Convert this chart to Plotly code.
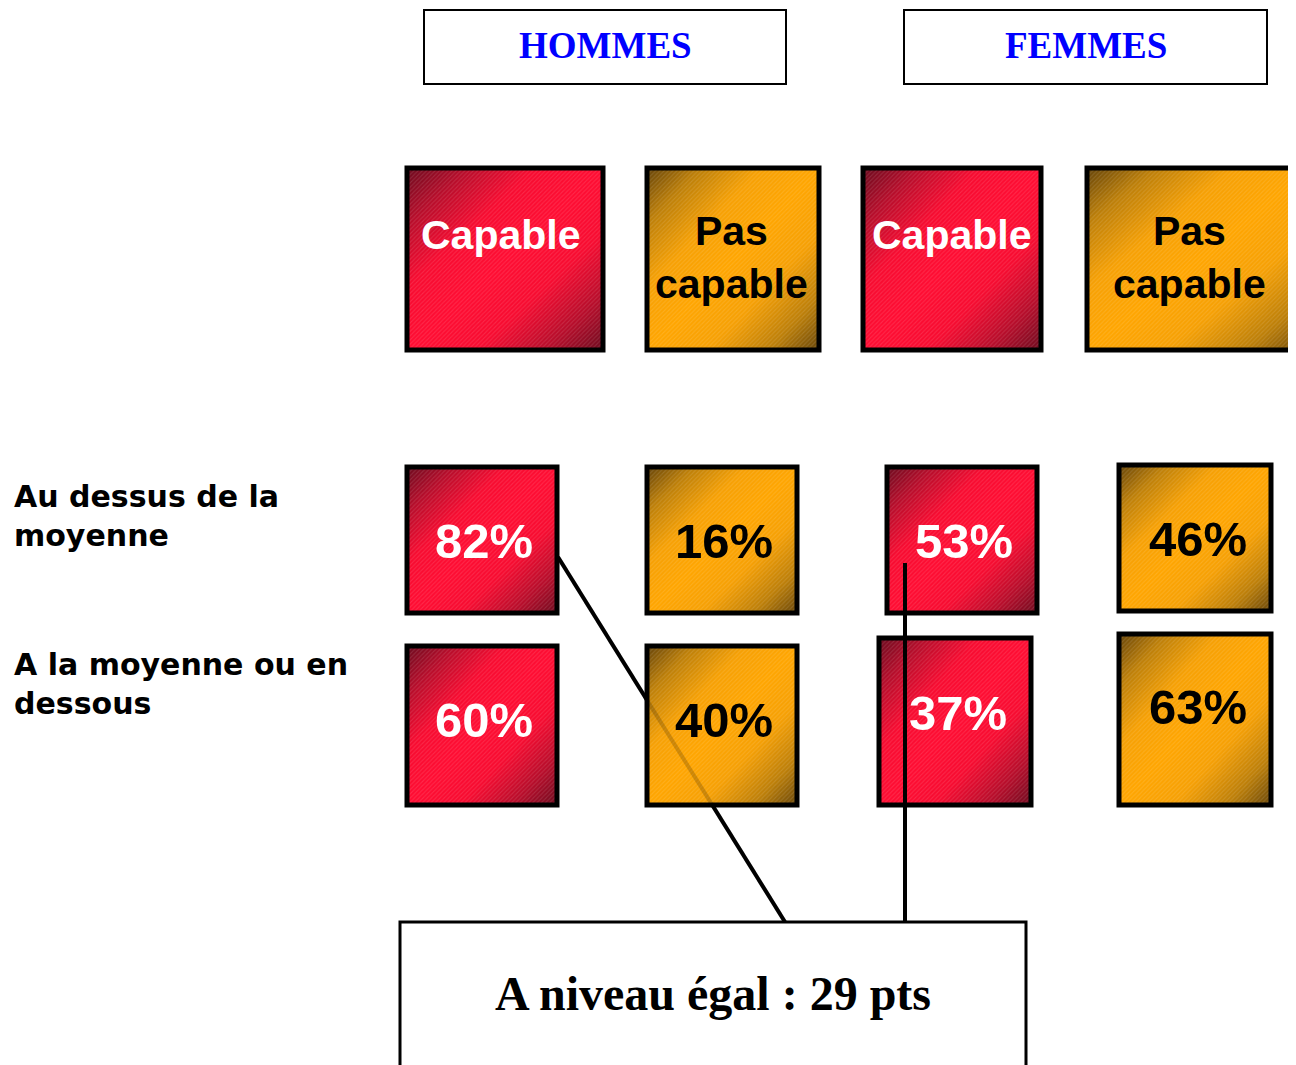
import numpy as np
import plotly.graph_objects as go

# --- Données -------------------------------------------------------------
genres = ["HOMMES", "FEMMES"]
categories = ["Capable", "Pas<br>capable", "Capable", "Pas<br>capable"]
niveaux = ["Au dessus de la<br>moyenne", "A la moyenne ou en<br>dessous"]
pct_dessus = [82, 16, 53, 46]
pct_dessous = [60, 40, 37, 63]
conclusion = "A niveau égal : 29 pts"

# --- Géométrie (pixels de la diapositive, y vers le bas) ------------------
W, H = 1296, 1065
DEC = 8  # marge par défaut du <body> de la page : on la compense dans les axes
entetes = [(424, 786, 10, 84), (904, 1267, 10, 84)]
cases_cat = [(407, 603, 168, 350), (647, 819, 168, 350),
             (863, 1041, 168, 350), (1087, 1310, 168, 350)]
cat_texte_y = [235, 257, 235, 257]
cases_dessus = [(407, 557, 467, 613), (647, 797, 467, 613),
                (887, 1037, 467, 613), (1119, 1271, 465, 611)]
cases_dessous = [(407, 557, 646, 805), (647, 797, 646, 805),
                 (879, 1031, 638, 805), (1119, 1271, 634, 805)]
texte_dessus = [(484, 541), (724, 541), (964, 541), (1198, 539)]
texte_dessous = [(484, 720), (724, 720), (958, 713), (1198, 707)]
niveaux_pos = [(12, 516), (12, 684)]
boite_fin = (400, 1026, 922, 1090)

ROUGE = [[0, "#ff0c32"], [0.35, "#f70b30"], [0.7, "#b60c2a"], [1, "#6c0a1e"]]
ORANGE = [[0, "#ffa500"], [0.35, "#f6a004"], [0.7, "#bd7f08"], [1, "#664408"]]
SANS = "Liberation Sans, Arial, sans-serif"
SERIF = "Liberation Serif, Times New Roman, serif"

fig = go.Figure()
shapes = []
annotations = []

# Trait diagonal (passe sous la case 40 %)
shapes.append(dict(type="line", x0=558, y0=557, x1=785, y1=922,
                   line=dict(color="black", width=4), layer="below"))


def case(x0, x1, y0, y1, palette):
    n = 60
    xs = np.linspace(x0, x1, n)
    ys = np.linspace(y0, y1, n)
    u, v = np.meshgrid(np.linspace(0, 1, n), np.linspace(0, 1, n))
    z = np.abs(u + v - 1)
    fig.add_trace(go.Heatmap(x=xs, y=ys, z=z, colorscale=palette, zmin=0, zmax=1,
                             zsmooth="best", showscale=False, hoverinfo="skip"))
    fig.add_trace(go.Scatter(x=[x0, x1, x1, x0, x0], y=[y0, y0, y1, y1, y0],
                             mode="lines", fill="toself", line=dict(width=0),
                             fillcolor="rgba(0,0,0,0)",
                             fillpattern=dict(shape="/", fgcolor="rgba(255,255,255,0.25)",
                                              bgcolor="rgba(0,0,0,0)", size=3, solidity=0.35),
                             hoverinfo="skip", showlegend=False))
    shapes.append(dict(type="rect", x0=x0, x1=x1, y0=y0, y1=y1,
                       line=dict(color="black", width=5), layer="above"))


palettes = [ROUGE, ORANGE, ROUGE, ORANGE]
couleurs_txt = ["white", "black", "white", "black"]

for i, (x0, x1, y0, y1) in enumerate(cases_cat):
    case(x0, x1, y0, y1, palettes[i])
    annotations.append(dict(x=(x0 + min(x1, W)) / 2 + (-4 if i == 0 else (-2 if i % 2 else 0)),
                            y=cat_texte_y[i],
                            text="<b>%s</b>" % categories[i], showarrow=False,
                            font=dict(family=SANS, size=41, color=couleurs_txt[i])))

for rangee, pos, vals in [(cases_dessus, texte_dessus, pct_dessus),
                          (cases_dessous, texte_dessous, pct_dessous)]:
    for i, (x0, x1, y0, y1) in enumerate(rangee):
        case(x0, x1, y0, y1, palettes[i])
        annotations.append(dict(x=pos[i][0], y=pos[i][1], text="<b>%d%%</b>" % vals[i],
                                showarrow=False,
                                font=dict(family=SANS, size=49, color=couleurs_txt[i])))

# Copie estompée du trait diagonal visible à travers la case 40 %
shapes.append(dict(type="line", x0=558, y0=557, x1=785, y1=922,
                   line=dict(color="rgba(0,0,0,0.18)", width=4), layer="above"))
# Trait vertical (au-dessus des cases)
shapes.append(dict(type="line", x0=905, y0=563, x1=905, y1=922,
                   line=dict(color="black", width=4), layer="above"))

# En-têtes HOMMES / FEMMES
for (x0, x1, y0, y1), g in zip(entetes, genres):
    shapes.append(dict(type="rect", x0=x0, x1=x1, y0=y0, y1=y1,
                       line=dict(color="black", width=2), fillcolor="white", layer="above"))
    annotations.append(dict(x=(x0 + x1) / 2, y=(y0 + y1) / 2 - 2, text="<b>%s</b>" % g,
                            showarrow=False,
                            font=dict(family=SERIF, size=37, color="#0000ff")))

# Libellés des niveaux
for (x, y), t in zip(niveaux_pos, niveaux):
    annotations.append(dict(x=x, y=y, text="<b>%s</b>" % t, showarrow=False,
                            xanchor="left", yanchor="middle", align="left",
                            font=dict(family="DejaVu Sans, Verdana, sans-serif",
                                      size=30, color="black")))

# Boîte de conclusion
x0, x1, y0, y1 = boite_fin
shapes.append(dict(type="rect", x0=x0, x1=x1, y0=y0, y1=y1,
                   line=dict(color="black", width=3), fillcolor="white", layer="above"))
annotations.append(dict(x=(x0 + x1) / 2, y=993, text="<b>%s</b>" % conclusion,
                        showarrow=False,
                        font=dict(family=SERIF, size=48, color="black")))

fig.update_layout(
    width=W, height=H,
    margin=dict(l=0, r=0, t=0, b=0),
    paper_bgcolor="white", plot_bgcolor="white",
    showlegend=False,
    shapes=shapes,
    annotations=annotations,
    xaxis=dict(range=[DEC, W + DEC], visible=False, fixedrange=True),
    yaxis=dict(range=[H + DEC, DEC], visible=False, fixedrange=True),
)

fig.write_html("out.html")
